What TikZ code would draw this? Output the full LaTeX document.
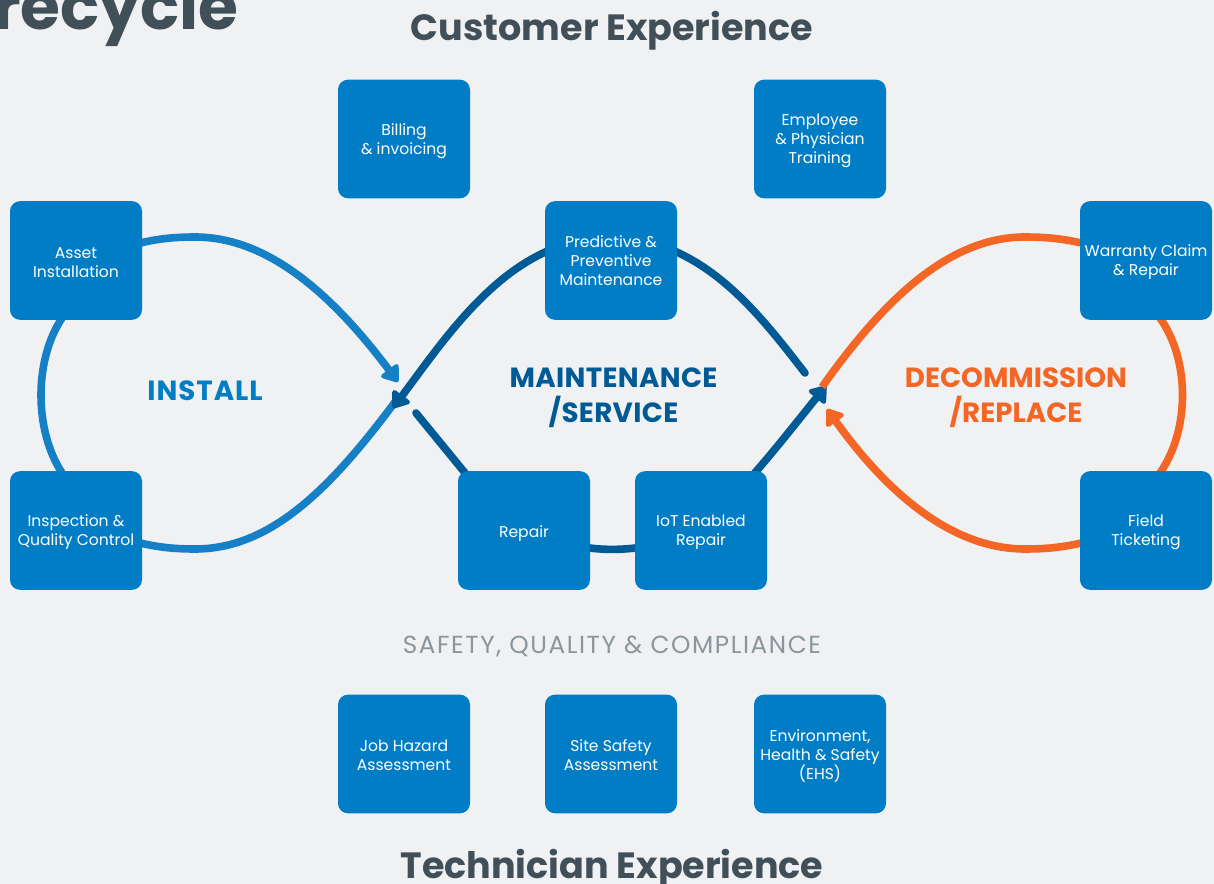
\documentclass[tikz,border=0pt]{standalone}
\usepackage{fontspec}
\setmainfont{Poppins}
\usetikzlibrary{arrows.meta,calc}
\definecolor{bgc}{HTML}{F0F1F3}
\definecolor{boxc}{HTML}{007DC5}
\definecolor{lightc}{HTML}{1580C6}
\definecolor{darkc}{HTML}{005A96}
\definecolor{orangec}{HTML}{F36625}
\definecolor{titlec}{HTML}{414F58}
\definecolor{greyc}{HTML}{8B969C}
\pgfdeclarelayer{lines}
\pgfsetlayers{lines,main}
\newcommand{\cardtext}[2]{\raisebox{-#1}[0pt][0pt]{\parbox{99pt}{\centering #2}}}
\tikzset{
  x=0.75pt,y=-0.75pt,
  card/.style={fill=boxc,rounded corners=7.5pt,minimum width=99pt,minimum height=89pt,inner sep=0pt,text=white,align=center,font=\fontsize{11.7}{14.3}\selectfont},
  loopline/.style={line width=5.7pt,line cap=butt},
  tipped/.style={-{Triangle[round,length=13pt,width=18pt]}},
  capped/.style={line cap=round},
  heading/.style={text=titlec,font=\fontsize{27.4}{30}\selectfont\bfseries,inner sep=0pt},
  phase/.style={font=\fontsize{20.8}{26.5}\selectfont\bfseries,align=center,inner sep=0pt},
}
\begin{document}
\begin{tikzpicture}
\useasboundingbox (0,0) rectangle (1214,884);
% cards
\node[card] (billing) at (404,139) {\cardtext{4.5pt}{Billing\\\& invoicing}};
\node[card] (training) at (820,139) {\cardtext{4.5pt}{Employee\\\& Physician\\Training}};
\node[card] (asset) at (76,260.5) {\cardtext{4.5pt}{Asset\\Installation}};
\node[card] (inspect) at (76,530.5) {\cardtext{4.5pt}{Inspection \&\\Quality Control}};
\node[card] (predict) at (611,260.5) {\cardtext{3.2pt}{Predictive \&\\Preventive\\Maintenance}};
\node[card] (repair) at (524,530.5) {\cardtext{5pt}{Repair}};
\node[card] (iot) at (701,530.5) {\cardtext{4.5pt}{IoT Enabled\\Repair}};
\node[card] (warranty) at (1146,260.5) {\cardtext{4.5pt}{Warranty Claim\\\& Repair}};
\node[card] (field) at (1146,530.5) {\cardtext{4.5pt}{Field\\Ticketing}};
\node[card] (hazard) at (404,754) {\cardtext{3.8pt}{Job Hazard\\Assessment}};
\node[card] (site) at (611,754) {\cardtext{3.5pt}{Site Safety\\Assessment}};
\node[card] (ehs) at (820,754) {\cardtext{4.7pt}{Environment,\\Health \& Safety\\(EHS)}};
% labels
\node[phase,text=boxc,font=\fontsize{20.8}{26.5}\selectfont\bfseries\addfontfeature{LetterSpace=3.5}] (installLabel) at (205,391) {INSTALL};
\node[phase,text=darkc,font=\fontsize{20.8}{26.5}\selectfont\bfseries\addfontfeature{LetterSpace=1.2}] (serviceLabel) at (613.5,397.5) {MAINTENANCE\\/SERVICE};
\node[phase,text=orangec] (decomLabel) at (1016,397.5) {DECOMMISSION\\/REPLACE};
\node[text=greyc,font=\fontsize{18.5}{20}\selectfont\addfontfeature{LetterSpace=6.4},inner sep=0pt] (safety) at (612,646.5) {SAFETY, QUALITY \& COMPLIANCE};
\node[heading] (customer) at (612,31) {Customer Experience};
\node[heading] (technician) at (612,869) {Technician Experience};
\begin{scope}
\clip (0,0) rectangle (1214,884);
\node[text=titlec,font=\fontsize{48.5}{50}\selectfont\bfseries,inner sep=0pt,anchor=base east] (title) at (239,29.5) {recycle};
\end{scope}
\coordinate (installTip) at (398,382);
\coordinate (installMerge) at (398,398);
\coordinate (serviceTip) at (393,408);
\coordinate (serviceCapL) at (416,413);
\coordinate (serviceCapR) at (805,373);
\coordinate (serviceTipR) at (826,386);
\coordinate (orangeMerge) at (822,387);
\coordinate (orangeTip) at (827,409);
\begin{pgfonlayer}{lines}
\fill[bgc] (0,0) rectangle (1214,884);
% install loop
\draw[loopline,lightc] ($(asset.south)+(-14,-2)$) .. controls (34,360) and (34,430) .. ($(inspect.north)+(-14,2)$);
\draw[loopline,lightc] ($(inspect.east)+(-4,12)$) .. controls (158,547.5) and (176,549) .. (195,549)
  .. controls (270,549) and (330,490) .. (installMerge);
\draw[loopline,lightc,tipped] ($(asset.east)+(-4,-17)$) .. controls (158,238.5) and (176,237) .. (195,237)
  .. controls (270,237) and (335,298) .. (installTip);
% service loop
\draw[loopline,darkc,tipped] ($(predict.west)+(4,-10)$) .. controls (485,278) and (440,345) .. (serviceTip);
\draw[loopline,darkc,capped] ($(predict.east)+(-4,-10)$) .. controls (730,275) and (770,328) .. (serviceCapR);
\draw[loopline,darkc,capped] ($(repair.north)+(-59,2)$) -- (serviceCapL);
\draw[loopline,darkc] ($(repair.east)+(-4,17)$) .. controls (602,550) and (622,550) .. ($(iot.west)+(4,17)$);
\draw[loopline,darkc,tipped] ($(iot.north)+(52,4)$) .. controls (775,450) and (800,418) .. (serviceTipR);
% decommission loop
\draw[loopline,orangec] ($(warranty.south)+(14,-2)$) .. controls (1190,360) and (1190,430) .. ($(field.north)+(14,2)$);
\draw[loopline,orangec] ($(warranty.west)+(4,-17)$) .. controls (1062,238.5) and (1045,237) .. (1025,237)
  .. controls (950,237) and (885,298) .. (orangeMerge);
\draw[loopline,orangec,tipped] ($(field.west)+(4,12)$) .. controls (1062,547.5) and (1045,549) .. (1025,549)
  .. controls (950,549) and (885,490) .. (orangeTip);
\end{pgfonlayer}
\end{tikzpicture}
\end{document}
